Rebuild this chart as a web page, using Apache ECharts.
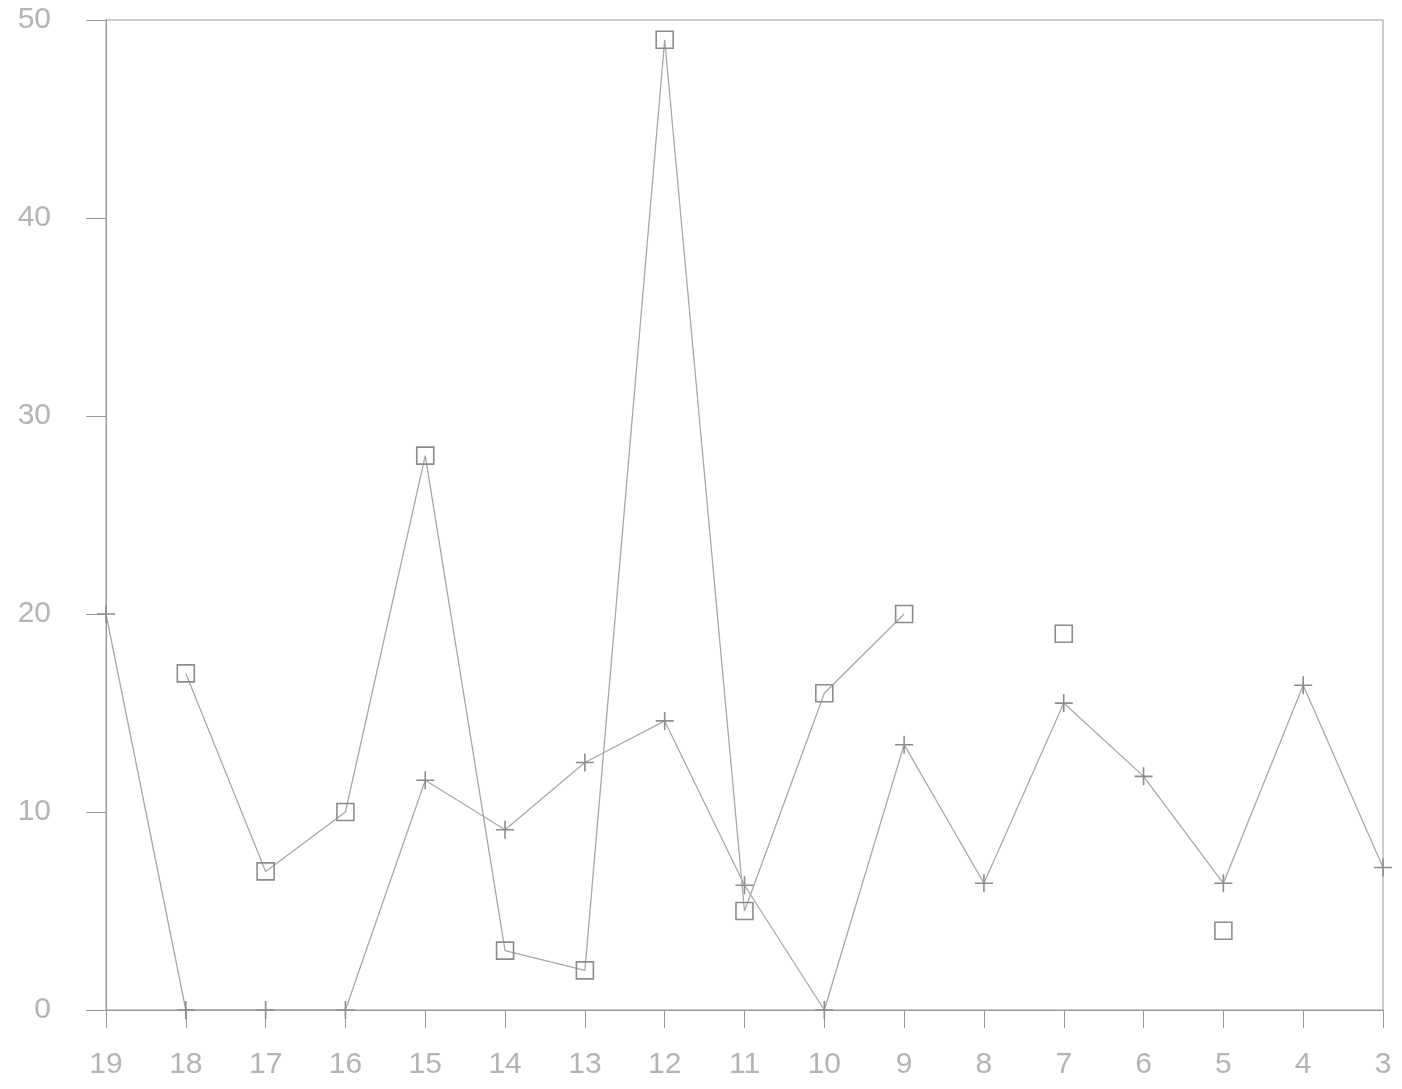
<!DOCTYPE html>
<html>
<head>
<meta charset="utf-8">
<script src="https://cdn.jsdelivr.net/npm/echarts@6/dist/echarts.min.js"></script>
<style>
html,body{margin:0;padding:0;background:#fff;}
#chart{width:1402px;height:1089px;}
</style>
</head>
<body>
<div id="chart"></div>
<script>
var categories = ['19','18','17','16','15','14','13','12','11','10','9','8','7','6','5','4','3'];
var squareSeries = [null,17,7,10,28,3,2,49,5,16,20,null,19,null,4,null,null];
var plusSeries = [20,0,0,0,11.6,9.1,12.5,14.6,6.3,0,13.4,6.4,15.5,11.8,6.4,16.4,7.2];
var yTicks = {min:0, max:50, interval:10};

var axisColor = '#9a9a9a';
var lineColor = '#a8a8a8';
var textColor = '#b4b4b4';
var font = 'Liberation Sans';

var chart = echarts.init(document.getElementById('chart'), null, {renderer:'canvas'});
chart.setOption({
  animation:false,
  backgroundColor:'#ffffff',
  grid:{left:106,right:19,top:20,bottom:79,show:true,borderColor:axisColor,borderWidth:1,backgroundColor:'transparent'},
  xAxis:{
    type:'category',
    data:categories,
    boundaryGap:false,
    axisLine:{show:true,lineStyle:{color:axisColor,width:1}},
    axisTick:{show:true,inside:false,length:18,alignWithLabel:true,lineStyle:{color:axisColor,width:1}},
    axisLabel:{show:true,margin:40,color:textColor,fontFamily:font,fontSize:30,interval:0},
    splitLine:{show:false}
  },
  yAxis:{
    type:'value',
    min:yTicks.min,max:yTicks.max,interval:yTicks.interval,
    axisLine:{show:true,lineStyle:{color:axisColor,width:1}},
    axisTick:{show:true,inside:false,length:20,lineStyle:{color:axisColor,width:1}},
    axisLabel:{show:true,margin:55,color:textColor,fontFamily:font,fontSize:30},
    splitLine:{show:false}
  },
  series:[
    {
      type:'line',
      data:squareSeries,
      connectNulls:false,
      symbol:'rect',
      symbolSize:17,
      showSymbol:true,
      showAllSymbol:true,
      lineStyle:{color:lineColor,width:1.3},
      itemStyle:{color:'rgba(255,255,255,0)',borderColor:'#8c8c8c',borderWidth:1.6},
      emphasis:{disabled:true},
      z:3
    },
    {
      type:'line',
      data:plusSeries,
      connectNulls:false,
      symbol:'path://M10,0L10,20M0,10L20,10',
      symbolSize:18,
      showSymbol:true,
      showAllSymbol:true,
      lineStyle:{color:lineColor,width:1.3},
      itemStyle:{color:'rgba(255,255,255,0)',borderColor:'#8c8c8c',borderWidth:1.6},
      emphasis:{disabled:true},
      z:3
    }
  ]
});
</script>
</body>
</html>
